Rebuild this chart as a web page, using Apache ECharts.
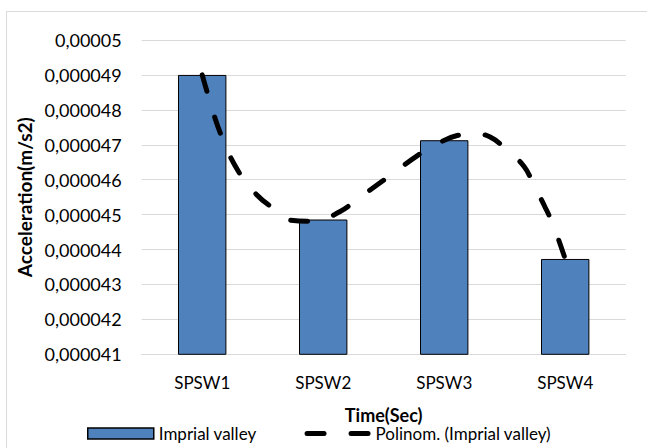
<!DOCTYPE html>
<html>
<head>
<meta charset="utf-8">
<script src="https://cdn.jsdelivr.net/npm/echarts@6/dist/echarts.min.js"></script>
<style>html,body{margin:0;padding:0;background:#fff}#c{width:647px;height:448px}</style>
</head>
<body>
<div id="c"></div>
<script>
const categories = ['SPSW1', 'SPSW2', 'SPSW3', 'SPSW4'];
const barValues = [0.0000490, 0.00004486, 0.00004713, 0.00004373];
// Polynomial trendline (x = category position 1..4)
const trendX = [1.00, 1.04, 1.15, 1.29, 1.45, 1.60, 1.73, 1.93, 2.14, 2.30, 2.47, 2.62, 2.77, 2.93, 3.10, 3.27, 3.38, 3.50, 3.66, 3.74, 3.83, 3.90, 4.00];
const trendY = [0.00004900, 0.00004852, 0.00004733, 0.00004629, 0.00004557, 0.00004515, 0.00004484, 0.00004481, 0.00004509, 0.00004549, 0.00004591, 0.00004629, 0.00004667, 0.00004700, 0.00004726, 0.00004731, 0.00004722, 0.00004691, 0.00004638, 0.00004585, 0.00004524, 0.00004471, 0.00004373];
const yMin = 0.000041, yMax = 0.00005, yStep = 0.000001;
const barName = 'Imprial valley';
const trendName = 'Polinom. (Imprial valley)';
const xTitle = 'Time(Sec)';
const yTitle = 'Acceleration(m/s2)';

const FONT = 'Lato';
// legend icon: two rounded dashes inside a 66x11 box
const dashIcon = 'path://M0,0M66,11M2.5,3h17a2.5,2.5 0 0 1 0,5h-17a2.5,2.5 0 0 1 0,-5zM46.5,3h17a2.5,2.5 0 0 1 0,5h-17a2.5,2.5 0 0 1 0,-5z';
const chart = echarts.init(document.getElementById('c'), null, {renderer: 'svg'});
chart.setOption({
  animation: false,
  backgroundColor: '#fff',
  textStyle: {fontFamily: FONT},
  graphic: [{
    type: 'rect', silent: true, z: -10,
    shape: {x: 6.5, y: 11.5, width: 700, height: 500},
    style: {fill: 'none', stroke: '#D9D9D9', lineWidth: 1}
  }],
  grid: {left: 141.7, right: 21.3, top: 40, bottom: 93.7, containLabel: false},
  legend: {
    left: 87, top: 425, padding: 0, itemWidth: 66, itemHeight: 11, itemGap: 48,
    textStyle: {fontFamily: FONT, fontSize: 17, lineHeight: 14, color: '#000'},
    data: [
      {name: barName, icon: 'rect', itemStyle: {color: '#4F81BD', borderColor: '#000', borderWidth: 1.5}},
      {name: trendName, icon: dashIcon, itemStyle: {color: '#000', opacity: 1, borderWidth: 0}}
    ]
  },
  xAxis: [{
    type: 'category', data: categories,
    axisLine: {lineStyle: {color: '#D9D9D9', width: 1}},
    axisTick: {show: false},
    axisLabel: {color: '#000', fontSize: 17, margin: 20, fontFamily: FONT},
    name: xTitle, nameLocation: 'middle', nameGap: 53,
    nameTextStyle: {color: '#000', fontWeight: 'bold', fontSize: 18, lineHeight: 16, fontFamily: FONT}
  }, {
    type: 'value', min: 0.5, max: 4.5, show: false
  }],
  yAxis: {
    type: 'value', min: yMin, max: yMax, interval: yStep,
    axisLine: {show: false}, axisTick: {show: false},
    splitLine: {lineStyle: {color: '#D9D9D9', width: 1}},
    axisLabel: {
      color: '#000', fontSize: 18, margin: 20, fontFamily: FONT,
      formatter: v => parseFloat(v.toFixed(6)).toString().replace('.', ',')
    },
    name: yTitle, nameLocation: 'middle', nameGap: 108,
    nameTextStyle: {color: '#000', fontWeight: 'bold', fontSize: 19, fontFamily: FONT}
  },
  series: [{
    name: barName, type: 'bar', data: barValues, barWidth: '40%',
    xAxisIndex: 0,
    itemStyle: {color: '#4F81BD', borderColor: '#000', borderWidth: 1}
  }, {
    name: trendName, type: 'line', xAxisIndex: 1,
    data: trendX.map((x, i) => [x, trendY[i]]),
    smooth: 0.4, symbol: 'none', showSymbol: false,
    itemStyle: {color: '#000'},
    lineStyle: {color: '#000', width: 5, type: [17, 27], cap: 'round'},
    z: 5
  }]
});
</script>
</body>
</html>
